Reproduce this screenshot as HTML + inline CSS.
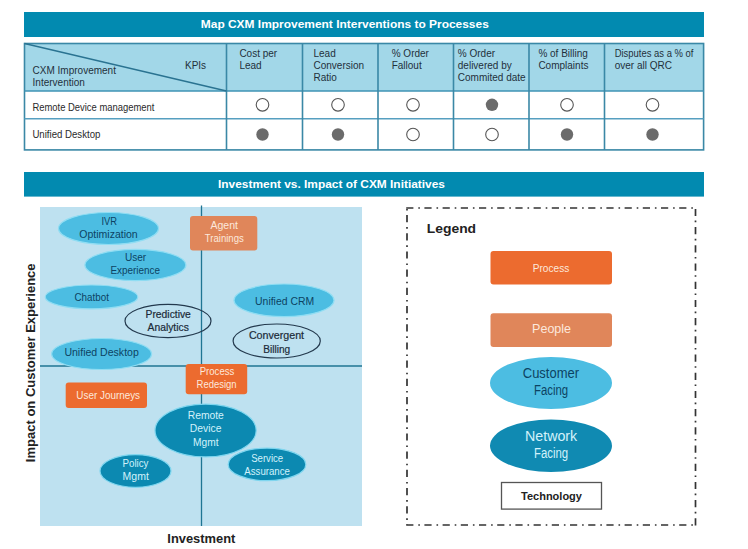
<!DOCTYPE html>
<html><head><meta charset="utf-8">
<style>
html,body{margin:0;padding:0;background:#fff;width:748px;height:549px;overflow:hidden}
svg{display:block}
text{font-family:"Liberation Sans",sans-serif}
.b{font-weight:bold}
</style></head><body>
<svg width="748" height="549" viewBox="0 0 748 549">
<!-- Title bar 1 -->
<rect x="24" y="12" width="680" height="25" fill="#028AB0"/>
<text x="200.8" y="28.4" class="b" font-size="11.5" fill="#fff" textLength="288" lengthAdjust="spacingAndGlyphs">Map CXM Improvement Interventions to Processes</text>

<!-- Table -->
<rect x="24.5" y="43.5" width="679" height="47.5" fill="#A2D7E8"/>
<rect x="24.5" y="91" width="679" height="59" fill="#fff"/>
<g stroke="#3A88A6" stroke-width="1.6" fill="none">
<rect x="24.5" y="43.5" width="679.1" height="106.4"/>
<line x1="24.5" y1="91" x2="704" y2="91" stroke="#3F93B5"/>
<line x1="24.5" y1="118.8" x2="703.6" y2="118.8" stroke="#569FC0" stroke-width="1.5"/>
<line x1="226.5" y1="43.5" x2="226.5" y2="150"/>
<line x1="302.5" y1="43.5" x2="302.5" y2="150"/>
<line x1="378" y1="43.5" x2="378" y2="150"/>
<line x1="453.5" y1="43.5" x2="453.5" y2="150"/>
<line x1="529" y1="43.5" x2="529" y2="150"/>
<line x1="604.5" y1="43.5" x2="604.5" y2="150"/>
<line x1="24.5" y1="43.5" x2="226.5" y2="91" stroke-width="1.3" stroke="#2A7391"/>
</g>
<g font-size="10" fill="#1F303B">
<text x="32.6" y="73.7">CXM Improvement</text>
<text x="32.6" y="85.8">Intervention</text>
<text x="185" y="69.1">KPIs</text>
<text x="239.4" y="57.3">Cost per</text>
<text x="239.4" y="69.1">Lead</text>
<text x="313.5" y="57.3">Lead</text>
<text x="313.5" y="69.1">Conversion</text>
<text x="313.5" y="81">Ratio</text>
<text x="391.7" y="57.3">% Order</text>
<text x="391.7" y="69.1">Fallout</text>
<text x="457.8" y="57.3">% Order</text>
<text x="457.8" y="69.1">delivered by</text>
<text x="457.8" y="81">Commited date</text>
<text x="538.4" y="57.3">% of Billing</text>
<text x="538.4" y="69.1">Complaints</text>
<text x="614.7" y="57.3" textLength="78.7" lengthAdjust="spacingAndGlyphs">Disputes as a % of</text>
<text x="614.7" y="69.1">over all QRC</text>
</g>
<g font-size="10.3" fill="#2A2A2A">
<text x="32.4" y="111.2" textLength="122" lengthAdjust="spacingAndGlyphs">Remote Device management</text>
<text x="32.4" y="138.3" textLength="68" lengthAdjust="spacingAndGlyphs">Unified Desktop</text>
</g>
<g stroke="#555" stroke-width="1.1" fill="#fff">
<circle cx="262.5" cy="104.8" r="6.3"/>
<circle cx="338" cy="104.8" r="6.3"/>
<circle cx="413" cy="104.8" r="6.3"/>
<circle cx="492" cy="104.8" r="6.2" fill="#6B6B6B" stroke="none"/>
<circle cx="567" cy="104.8" r="6.3"/>
<circle cx="652.5" cy="104.8" r="6.3"/>
<circle cx="262.5" cy="134.5" r="6.2" fill="#6B6B6B" stroke="none"/>
<circle cx="338" cy="134.5" r="6.2" fill="#6B6B6B" stroke="none"/>
<circle cx="413" cy="134.5" r="6.3"/>
<circle cx="492" cy="134.5" r="6.3"/>
<circle cx="567" cy="134.5" r="6.2" fill="#6B6B6B" stroke="none"/>
<circle cx="652.5" cy="134.5" r="6.2" fill="#6B6B6B" stroke="none"/>
</g>

<!-- Title bar 2 -->
<rect x="24" y="172" width="680" height="24.6" fill="#028AB0"/>
<text x="218" y="187.5" class="b" font-size="11.5" fill="#fff" textLength="227" lengthAdjust="spacingAndGlyphs">Investment vs. Impact of CXM Initiatives</text>

<!-- Chart -->
<rect x="40" y="207" width="322" height="319" fill="#BEE1F0"/>
<g stroke="#1F7593" stroke-width="1.3">
<line x1="201.5" y1="205.5" x2="201.5" y2="526"/>
<line x1="40" y1="366" x2="362" y2="366"/>
</g>
<g fill="#4CBDE2" stroke="#8FDDF3" stroke-width="1.2">
<ellipse cx="108.5" cy="228.5" rx="50" ry="16"/>
<ellipse cx="135.4" cy="265" rx="50.5" ry="15.6"/>
<ellipse cx="91.5" cy="296.9" rx="46.3" ry="11.9"/>
<ellipse cx="101.6" cy="354" rx="50" ry="15.5"/>
<ellipse cx="284" cy="300.3" rx="50" ry="16.3"/>
</g>
<g fill="none" stroke="#23394D" stroke-width="1.2">
<ellipse cx="168" cy="321" rx="43" ry="16.6"/>
<ellipse cx="276.7" cy="341" rx="43.6" ry="17"/>
</g>
<g fill="#0C89B1" stroke="#7FD6EF" stroke-width="1.2">
<ellipse cx="205.6" cy="430.5" rx="50.6" ry="26.4"/>
<ellipse cx="135.5" cy="471" rx="35.5" ry="16.3"/>
<ellipse cx="267" cy="464.4" rx="38.8" ry="16.3"/>
</g>
<rect x="190" y="216" width="67.3" height="34.6" rx="3" fill="#E0865A"/>
<rect x="185.7" y="364" width="61.5" height="30.2" rx="3" fill="#EC6B2F"/>
<rect x="65.7" y="382.5" width="81.3" height="25.6" rx="3" fill="#EC6B2F"/>

<g font-size="10.9" fill="#0C4363" text-anchor="middle">
<text x="109.2" y="224.8" textLength="15.6" lengthAdjust="spacingAndGlyphs">IVR</text>
<text x="108.5" y="237.8" textLength="58.4" lengthAdjust="spacingAndGlyphs">Optimization</text>
<text x="135.6" y="260.7" textLength="21.3" lengthAdjust="spacingAndGlyphs">User</text>
<text x="135.2" y="273.7" textLength="49.6" lengthAdjust="spacingAndGlyphs">Experience</text>
<text x="91.7" y="300.5" textLength="34.4" lengthAdjust="spacingAndGlyphs">Chatbot</text>
<text x="101.6" y="355.8" textLength="74.4" lengthAdjust="spacingAndGlyphs">Unified Desktop</text>
<text x="284.6" y="305" textLength="59" lengthAdjust="spacingAndGlyphs">Unified CRM</text>
</g>
<g font-size="10.4" fill="#1B2A38" stroke="#1B2A38" stroke-width="0.2" text-anchor="middle">
<text x="168.2" y="317.5" textLength="45.3" lengthAdjust="spacingAndGlyphs">Predictive</text>
<text x="168.2" y="330.5" textLength="41.3" lengthAdjust="spacingAndGlyphs">Analytics</text>
<text x="276.5" y="338.9" textLength="55.2" lengthAdjust="spacingAndGlyphs">Convergent</text>
<text x="276.7" y="353" textLength="26.9" lengthAdjust="spacingAndGlyphs">Billing</text>
</g>
<g font-size="11" fill="#FCE8DC" text-anchor="middle">
<text x="224.2" y="229.3" textLength="27.5" lengthAdjust="spacingAndGlyphs">Agent</text>
<text x="224.3" y="242" textLength="39" lengthAdjust="spacingAndGlyphs">Trainings</text>
<text x="217" y="375" textLength="34.5" lengthAdjust="spacingAndGlyphs">Process</text>
<text x="216.6" y="387.7" textLength="40" lengthAdjust="spacingAndGlyphs">Redesign</text>
<text x="108.2" y="399.1" textLength="63.7" lengthAdjust="spacingAndGlyphs">User Journeys</text>
</g>
<g font-size="10" fill="#D3F2FB" text-anchor="middle">
<text x="205.8" y="418.9" textLength="36.1" lengthAdjust="spacingAndGlyphs">Remote</text>
<text x="205.6" y="432" textLength="31.6" lengthAdjust="spacingAndGlyphs">Device</text>
<text x="205.8" y="445.6" textLength="25.4" lengthAdjust="spacingAndGlyphs">Mgmt</text>
<text x="135.5" y="466.9" textLength="26" lengthAdjust="spacingAndGlyphs">Policy</text>
<text x="135.7" y="479.6" textLength="26.2" lengthAdjust="spacingAndGlyphs">Mgmt</text>
<text x="267.2" y="462" textLength="32" lengthAdjust="spacingAndGlyphs">Service</text>
<text x="267.1" y="474.6" textLength="45.6" lengthAdjust="spacingAndGlyphs">Assurance</text>
</g>
<text x="167.3" y="543.3" class="b" font-size="12.9" fill="#222">Investment</text>
<text transform="translate(35 362.8) rotate(-90)" text-anchor="middle" class="b" font-size="13" fill="#222">Impact on Customer Experience</text>

<!-- Legend -->
<g stroke="#333" stroke-width="1.7" fill="none" stroke-dasharray="7.2 4.9 1.6 4.5">
<line x1="406.2" y1="208" x2="695.5" y2="208"/>
<line x1="406.2" y1="525" x2="695.5" y2="525"/>
<line x1="407" y1="208" x2="407" y2="525" stroke-dashoffset="11.2"/>
<line x1="695.5" y1="525.5" x2="695.5" y2="208"/>
</g>
<text x="426.8" y="232.8" class="b" font-size="13.4" fill="#222" textLength="49.3" lengthAdjust="spacingAndGlyphs">Legend</text>
<rect x="490.5" y="251" width="121.5" height="33.6" rx="3" fill="#EC6B2F"/>
<rect x="490.5" y="313.2" width="121.5" height="33.8" rx="3" fill="#E0865A"/>
<ellipse cx="551" cy="383" rx="61" ry="26" fill="#4CBDE2"/>
<ellipse cx="551" cy="445.7" rx="61" ry="26.3" fill="#108AB2"/>
<rect x="501.5" y="482.5" width="100" height="26.6" fill="#fff" stroke="#555" stroke-width="1.3"/>
<text x="551" y="271.7" text-anchor="middle" font-size="11.3" fill="#FCE8DC" textLength="36.5" lengthAdjust="spacingAndGlyphs">Process</text>
<text x="551.6" y="332.5" text-anchor="middle" font-size="13.2" fill="#FCE8DC" textLength="39" lengthAdjust="spacingAndGlyphs">People</text>
<text x="550.9" y="378" text-anchor="middle" font-size="14" fill="#0C4363" textLength="56.3" lengthAdjust="spacingAndGlyphs">Customer</text>
<text x="551.1" y="394.5" text-anchor="middle" font-size="14" fill="#0C4363" textLength="34.2" lengthAdjust="spacingAndGlyphs">Facing</text>
<text x="551.1" y="441.2" text-anchor="middle" font-size="14" fill="#D3F2FB" textLength="52.2" lengthAdjust="spacingAndGlyphs">Network</text>
<text x="551.1" y="457.8" text-anchor="middle" font-size="14" fill="#D3F2FB" textLength="34.2" lengthAdjust="spacingAndGlyphs">Facing</text>
<text x="551.5" y="499.9" text-anchor="middle" class="b" font-size="11" fill="#222">Technology</text>
</svg>
</body></html>
